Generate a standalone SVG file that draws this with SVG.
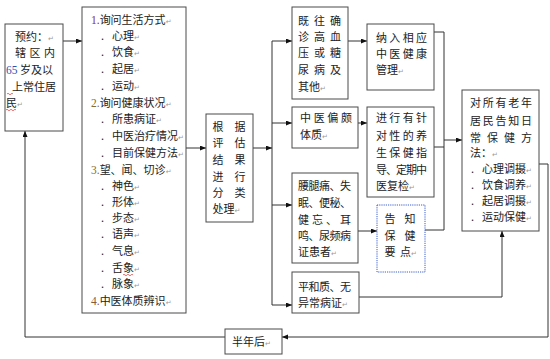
<svg xmlns="http://www.w3.org/2000/svg" width="550" height="359" viewBox="0 0 550 359">
<style>
.box{fill:#fff;stroke:#4a4a4a;stroke-width:1}
.dot{fill:#fff;stroke:#3a5fcd;stroke-width:1;stroke-dasharray:1.2 1}
.t{font-family:"Noto Sans CJK SC","Noto Sans CJK JP",sans-serif;font-size:11px;fill:#222}
.n{font-family:"Liberation Serif",serif;font-size:11.5px}
.pm{font-family:"DejaVu Sans",sans-serif;font-size:7px;fill:#999}
.c{text-anchor:middle}
.ln{fill:none;stroke:#333;stroke-width:1}
.sq{fill:none;stroke:#e03030;stroke-width:0.7}
</style>
<defs>
<marker id="ar" markerUnits="userSpaceOnUse" markerWidth="7" markerHeight="6" refX="6" refY="2.5" orient="auto">
<path d="M0,0 L6,2.5 L0,5 z" fill="#111"/>
</marker>
</defs>

<g id="connectors">
<line class="ln" x1="63" y1="41" x2="82" y2="41" marker-end="url(#ar)"/>
<line class="ln" x1="186" y1="148" x2="206" y2="148" marker-end="url(#ar)"/>
<line class="ln" x1="253" y1="148" x2="272" y2="148" marker-end="url(#ar)"/>
<line class="ln" x1="272" y1="41" x2="272" y2="305"/>
<line class="ln" x1="272" y1="41" x2="292" y2="41" marker-end="url(#ar)"/>
<line class="ln" x1="272" y1="123" x2="292" y2="123" marker-end="url(#ar)"/>
<line class="ln" x1="272" y1="205" x2="292" y2="205" marker-end="url(#ar)"/>
<line class="ln" x1="272" y1="305" x2="292" y2="305" marker-end="url(#ar)"/>
<line class="ln" x1="348" y1="41" x2="367" y2="41" marker-end="url(#ar)"/>
<line class="ln" x1="358" y1="123" x2="367" y2="123" marker-end="url(#ar)"/>
<line class="ln" x1="358" y1="231" x2="377" y2="231" marker-end="url(#ar)"/>
<polyline class="ln" points="434,32 444,32 444,230 425,230"/>
<line class="ln" x1="434" y1="147" x2="444" y2="147"/>
<line class="ln" x1="444" y1="140" x2="462" y2="140" marker-end="url(#ar)"/>
<polyline class="ln" points="359,297 502,297 502,231" marker-end="url(#ar)"/>
<polyline class="ln" points="539,164 548,164 548,337 282,337" marker-end="url(#ar)"/>
<polyline class="ln" points="225,337 25,337 25,131" marker-end="url(#ar)"/>
</g>

<g id="n-appointment">
<rect class="box" x="5" y="24" width="58" height="107"/>
<text class="t" x="15" y="41">预约：<tspan class="pm">↵</tspan></text>
<text class="t" x="15" y="57" textLength="40" lengthAdjust="spacing">辖区内</text>
<text class="t" x="6" y="74"><tspan class="n" fill="#3050b0">65</tspan> 岁及以</text>
<text class="t" x="12" y="91">上常住居</text>
<text class="t" x="6" y="107">民<tspan class="pm">↵</tspan></text>
<path class="sq" d="M6,110 q1,-1.5 2,0 t2,0 t2,0 t2,0 t2,0"/>
<path class="sq" d="M7,94 q1,-1.5 2,0 t2,0 t2,0"/>
</g>

<g id="n-inquiry">
<rect class="box" x="82" y="7" width="104" height="306"/>
<text class="t" x="91" y="24"><tspan class="n" fill="#803070">1.</tspan>询问生活方式<tspan class="pm">↵</tspan></text>
<text class="t" x="101" y="40">.<tspan x="112">心理</tspan><tspan class="pm">↵</tspan></text>
<text class="t" x="101" y="56">.<tspan x="112">饮食</tspan><tspan class="pm">↵</tspan></text>
<text class="t" x="101" y="73">.<tspan x="112">起居</tspan><tspan class="pm">↵</tspan></text>
<text class="t" x="101" y="90">.<tspan x="112">运动</tspan><tspan class="pm">↵</tspan></text>
<text class="t" x="91" y="107"><tspan class="n" fill="#8a6a30">2.</tspan>询问健康状况<tspan class="pm">↵</tspan></text>
<text class="t" x="101" y="123">.<tspan x="112">所患病证</tspan><tspan class="pm">↵</tspan></text>
<text class="t" x="101" y="140">.<tspan x="112">中医治疗情况</tspan><tspan class="pm">↵</tspan></text>
<text class="t" x="101" y="157">.<tspan x="112">目前保健方法</tspan><tspan class="pm">↵</tspan></text>
<text class="t" x="91" y="174"><tspan class="n" fill="#8a6a30">3.</tspan>望、闻、切诊<tspan class="pm">↵</tspan></text>
<text class="t" x="101" y="190">.<tspan x="112">神色</tspan><tspan class="pm">↵</tspan></text>
<text class="t" x="101" y="206">.<tspan x="112">形体</tspan><tspan class="pm">↵</tspan></text>
<text class="t" x="101" y="222">.<tspan x="112">步态</tspan><tspan class="pm">↵</tspan></text>
<text class="t" x="101" y="238">.<tspan x="112">语声</tspan><tspan class="pm">↵</tspan></text>
<text class="t" x="101" y="255">.<tspan x="112">气息</tspan><tspan class="pm">↵</tspan></text>
<text class="t" x="101" y="272">.<tspan x="112">舌象</tspan><tspan class="pm">↵</tspan></text>
<text class="t" x="101" y="288">.<tspan x="112">脉象</tspan><tspan class="pm">↵</tspan></text>
<text class="t" x="91" y="305"><tspan class="n" fill="#8a5a30">4.</tspan>中医体质辨识<tspan class="pm">↵</tspan></text>
<path class="sq" d="M123,275 q1,-1.5 2,0 t2,0 t2,0 t2,0 t2,0"/>
</g>

<g id="n-classify">
<rect class="box" x="206" y="114" width="47" height="108"/>
<text class="t c" x="218" y="131">根</text><text class="t c" x="240" y="131">据</text>
<text class="t c" x="218" y="147">评</text><text class="t c" x="240" y="147">估</text>
<text class="t c" x="218" y="164">结</text><text class="t c" x="240" y="164">果</text>
<text class="t c" x="218" y="181">进</text><text class="t c" x="240" y="181">行</text>
<text class="t c" x="218" y="197">分</text><text class="t c" x="240" y="197">类</text>
<text class="t" x="212.5" y="213">处理<tspan class="pm">↵</tspan></text>
</g>

<g id="n-diagnosed">
<rect class="box" x="292" y="7" width="56" height="92"/>
<text class="t" x="298" y="25" textLength="43" lengthAdjust="spacing">既往确</text>
<text class="t" x="298" y="41" textLength="43" lengthAdjust="spacing">诊高血</text>
<text class="t" x="298" y="57" textLength="43" lengthAdjust="spacing">压或糖</text>
<text class="t" x="298" y="74" textLength="43" lengthAdjust="spacing">尿病及</text>
<text class="t" x="298" y="91">其他<tspan class="pm">↵</tspan></text>
</g>

<g id="n-biased">
<rect class="box" x="292" y="107" width="66" height="41"/>
<text class="t" x="300" y="122" textLength="52" lengthAdjust="spacing">中医偏颇</text>
<text class="t" x="300" y="139">体质<tspan class="pm">↵</tspan></text>
</g>

<g id="n-symptoms">
<rect class="box" x="292" y="173" width="66" height="90"/>
<text class="t" x="298" y="190" textLength="53" lengthAdjust="spacing">腰腿痛、失</text>
<text class="t" x="298" y="207" textLength="53" lengthAdjust="spacing">眠、便秘、</text>
<text class="t" x="298" y="224" textLength="53" lengthAdjust="spacing">健忘、耳</text>
<text class="t" x="298" y="240" textLength="53" lengthAdjust="spacing">鸣、尿频病</text>
<text class="t" x="298" y="256">证患者<tspan class="pm">↵</tspan></text>
</g>

<g id="n-balanced">
<rect class="box" x="292" y="272" width="67" height="41"/>
<text class="t" x="298" y="291" textLength="53" lengthAdjust="spacing">平和质、无</text>
<text class="t" x="298" y="307">异常病证<tspan class="pm">↵</tspan></text>
</g>

<g id="n-manage">
<rect class="box" x="367" y="24" width="67" height="66"/>
<text class="t" x="376" y="42" textLength="51" lengthAdjust="spacing">纳入相应</text>
<text class="t" x="376" y="58" textLength="51" lengthAdjust="spacing">中医健康</text>
<text class="t" x="376" y="74">管理<tspan class="pm">↵</tspan></text>
</g>

<g id="n-guidance">
<rect class="box" x="367" y="107" width="67" height="90"/>
<text class="t" x="376" y="122" textLength="51" lengthAdjust="spacing">进行有针</text>
<text class="t" x="376" y="140" textLength="51" lengthAdjust="spacing">对性的养</text>
<text class="t" x="376" y="157" textLength="51" lengthAdjust="spacing">生保健指</text>
<text class="t" x="376" y="174" textLength="51" lengthAdjust="spacing">导、定期中</text>
<text class="t" x="376" y="190">医复检<tspan class="pm">↵</tspan></text>
</g>

<g id="n-inform">
<rect class="dot" x="377" y="205" width="48" height="67"/>
<text class="t c" x="390" y="223">告</text><text class="t c" x="410" y="223">知</text>
<text class="t c" x="390" y="240">保</text><text class="t c" x="410" y="240">健</text>
<text class="t c" x="390" y="256">要</text><text class="t" x="400" y="256">点<tspan class="pm">↵</tspan></text>
</g>

<g id="n-methods">
<rect class="box" x="462" y="90" width="77" height="141"/>
<text class="t" x="470" y="107" textLength="62" lengthAdjust="spacing">对所有老年</text>
<text class="t" x="470" y="125" textLength="62" lengthAdjust="spacing">居民告知日</text>
<text class="t" x="470" y="142" textLength="62" lengthAdjust="spacing">常保健方</text>
<text class="t" x="470" y="157">法：<tspan class="pm">↵</tspan></text>
<text class="t" x="471" y="173">.<tspan x="482">心理调摄</tspan><tspan class="pm">↵</tspan></text>
<text class="t" x="471" y="189">.<tspan x="482">饮食调养</tspan><tspan class="pm">↵</tspan></text>
<text class="t" x="471" y="205">.<tspan x="482">起居调摄</tspan><tspan class="pm">↵</tspan></text>
<text class="t" x="471" y="221">.<tspan x="482">运动保健</tspan><tspan class="pm">↵</tspan></text>
</g>

<g id="n-halfyear">
<rect class="box" x="225" y="329" width="57" height="25"/>
<text class="t" x="232" y="346">半年后<tspan class="pm">↵</tspan></text>
</g>
</svg>
